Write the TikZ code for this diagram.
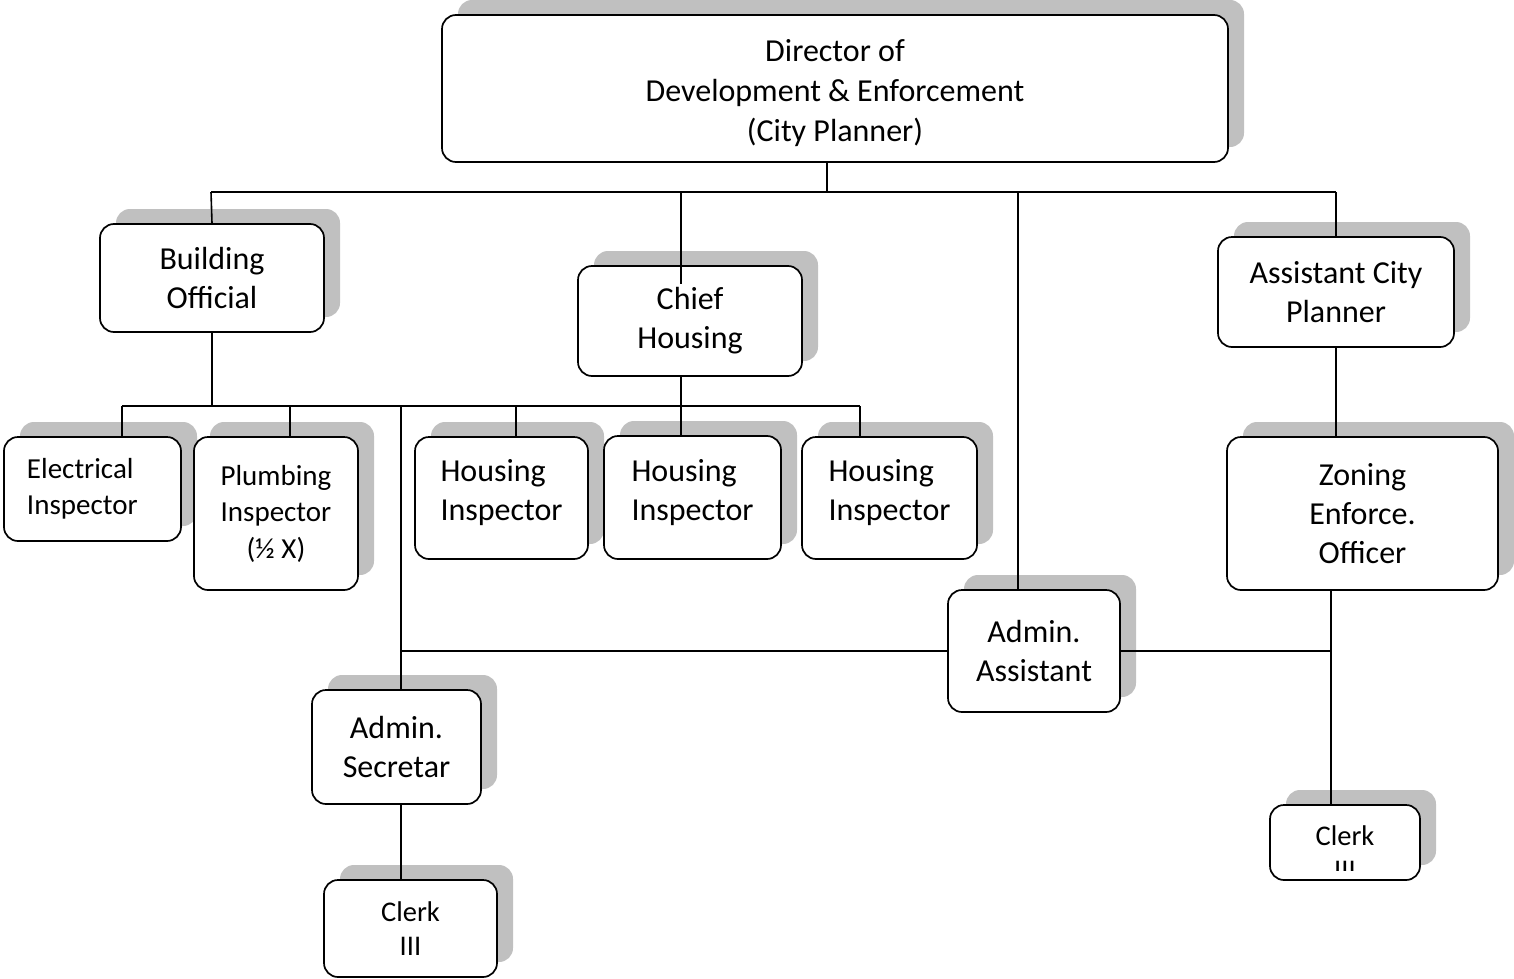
\documentclass[tikz,border=0pt]{standalone}
\usepackage{fontspec}
\setmainfont{Carlito}
\usetikzlibrary{shadows}
\definecolor{shad}{HTML}{C0C0C0}
\tikzset{
  orgbox/.style={draw, line width=1.7pt, rounded corners=14pt, fill=white,
    inner sep=0pt, align=center,
    drop shadow={shadow xshift=16pt, shadow yshift=15pt, fill=shad, opacity=1}},
  big/.style={font=\fontsize{32}{39}\selectfont},
  mid/.style={font=\fontsize{29}{36.5}\selectfont},
  small/.style={font=\fontsize{28.5}{34}\selectfont},
  conn/.style={line width=1.6pt, black}
}
\begin{document}
\begin{tikzpicture}[x=1pt,y=-1pt]
\useasboundingbox (0,0) rectangle (1514,979);
% boxes
\node[orgbox, font=\fontsize{32}{40}\selectfont, minimum width=786pt, minimum height=147pt] (dir) at (835,88.5)
  {\rule{0pt}{32pt}Director of\\Development \& Enforcement\\(City Planner)};
\node[orgbox, big, minimum width=224pt, minimum height=108pt] (bo) at (212,278) {Building\\Official};
\node[orgbox, big, minimum width=224pt, minimum height=110pt] (ch) at (690,321) {Chief\\Housing};
\node[orgbox, big, minimum width=236pt, minimum height=110pt] (acp) at (1336,292) {Assistant City\\Planner};
\node[orgbox, mid, minimum width=177pt, minimum height=104pt, align=left, text width=131pt, inner xsep=23pt] (el) at (92.5,489) {Electrical\\Inspector};
\node[orgbox, mid, minimum width=164pt, minimum height=153pt] (pl) at (276,513.5) {Plumbing\\Inspector\\(½ X)};
\node[orgbox, big, minimum width=173pt, minimum height=122pt, align=left, text width=122pt, inner xsep=25.5pt] (hi1) at (501.5,498) {Housing\\Inspector\rule[-16pt]{0pt}{16pt}};
\node[orgbox, big, minimum width=177pt, minimum height=123pt, align=left, text width=122pt, inner xsep=27.5pt] (hi2) at (692.5,497.5) {Housing\\Inspector\rule[-16pt]{0pt}{16pt}};
\node[orgbox, big, minimum width=175pt, minimum height=122pt, align=left, text width=122pt, inner xsep=26.5pt] (hi3) at (889.5,498) {Housing\\Inspector\rule[-16pt]{0pt}{16pt}};
\node[orgbox, big, minimum width=271pt, minimum height=153pt] (zo) at (1362.5,513.5) {Zoning\\Enforce.\\Officer};
\node[orgbox, big, minimum width=172pt, minimum height=122pt] (aa) at (1034,651) {Admin.\\Assistant};
\node[orgbox, big, minimum width=169pt, minimum height=114pt] (as) at (396.5,747) {Admin.\\Secretar};
\node[orgbox, small, minimum width=173pt, minimum height=97pt] (c3) at (410.5,928.5) {Clerk\\III};
\node[orgbox, minimum width=150pt, minimum height=75pt] (cr) at (1345,842.5) {};
\begin{scope}
  \clip (1272,807) rectangle (1418,870);
  \node[small, align=center, inner sep=0pt] (crt) at (1345,853) {Clerk\\III};
\end{scope}
% junction coordinates
\coordinate (j0) at (827,192);
\coordinate (b1L) at (211,192);
\coordinate (b1R) at (1336,192);
\coordinate (t2) at (681,192);
\coordinate (t3) at (1018,192);
\coordinate (b2) at (212,406);
\coordinate (b2L) at (122,406);
\coordinate (b2R) at (860,406);
\coordinate (b2p) at (290,406);
\coordinate (b2s) at (401,406);
\coordinate (b2h) at (516,406);
\coordinate (j4) at (1331,651);
% connectors
\draw[conn] (dir.south -| j0) -- (j0);
\draw[conn] (b1L) -- (b1R);
\draw[conn] (b1L) -- (bo.north);
\draw[conn] (t2) -- ([xshift=-9pt,yshift=-19pt]ch.north);
\draw[conn] (t3) -- (t3 |- aa.north);
\draw[conn] (b1R) -- (acp.north);
\draw[conn] (acp.south) -- (acp.south |- zo.north);
\draw[conn] (bo.south) -- (b2);
\draw[conn] (b2L) -- (b2R);
\draw[conn] (b2L) -- (b2L |- el.north);
\draw[conn] (b2p) -- (b2p |- pl.north);
\draw[conn] (b2h) -- (b2h |- hi1.north);
\draw[conn] ([xshift=-9pt]ch.south) -- ([xshift=-9pt]ch.south |- hi2.north);
\draw[conn] (b2R) -- (b2R |- hi3.north);
\draw[conn] (b2s) -- (b2s |- as.north);
\draw[conn] (b2s |- aa.west) -- (aa.west);
\draw[conn] (aa.east) -- (j4);
\draw[conn] (j4 |- zo.south) -- (j4 |- cr.north);
\draw[conn] ([xshift=4.5pt]as.south) -- ([xshift=4.5pt]as.south |- c3.north);
\end{tikzpicture}
\end{document}
